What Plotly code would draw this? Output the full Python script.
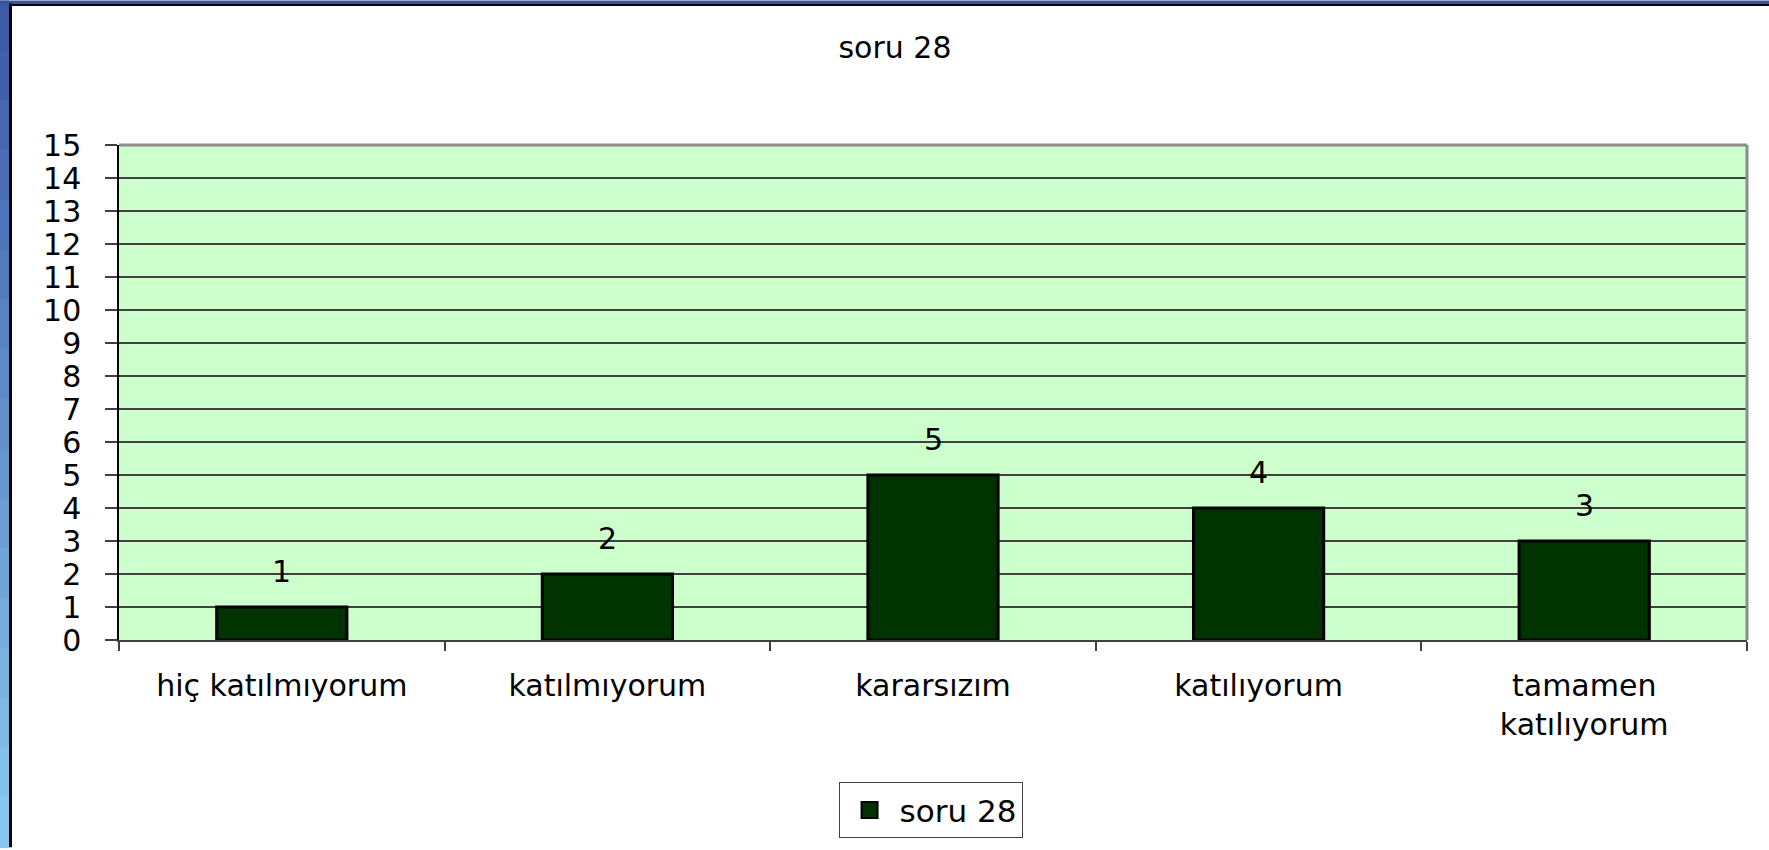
import plotly.graph_objects as go

categories = ["hiç katılmıyorum", "katılmıyorum", "kararsızım", "katılıyorum", "tamamen<br>katılıyorum"]
values = [1, 2, 5, 4, 3]
series_name = "soru 28"
title_text = "soru 28"
y_ticks = list(range(0, 16))

W, H = 1769, 850
L, R, T, B = 119, 22, 145, 208
PW, PH = W - L - R, H - T - B

def xp(px):
    return (px - L) / PW

def yp(py):
    return (H - B - py) / PH

FONT = "DejaVu Sans"
FS = 30
BAR_COLOR = "#003300"

fig = go.Figure()
fig.add_trace(go.Bar(
    x=categories, y=values, name=series_name,
    marker=dict(color=BAR_COLOR, line=dict(color="#000000", width=3)),
    width=0.4, showlegend=False,
))
# legend entry with a larger square swatch
fig.add_trace(go.Scatter(
    x=[None], y=[None], mode="markers", name=series_name,
    marker=dict(symbol="square", size=21, color=BAR_COLOR, line=dict(color="#000000", width=2)),
    showlegend=True,
))

annotations = []
for c, v in zip(categories, values):
    annotations.append(dict(x=c, y=v, xref="x", yref="y", text=str(v), showarrow=False,
                            yanchor="middle", yshift=36,
                            font=dict(family=FONT, size=FS, color="#000000")))

shapes = []
n = 17
top_c = (61, 90, 168)
bot_c = (136, 200, 238)
for i in range(n):
    f = i / (n - 1)
    col = "rgb(%d,%d,%d)" % tuple(int(top_c[k] + (bot_c[k] - top_c[k]) * f) for k in range(3))
    y0 = i * H / n
    y1 = (i + 1) * H / n + 1
    shapes.append(dict(type="rect", xref="paper", yref="paper", x0=xp(0), x1=xp(9),
                       y0=yp(y0), y1=yp(y1), fillcolor=col, line=dict(width=0), layer="above"))
shapes.append(dict(type="rect", xref="paper", yref="paper", x0=xp(0), x1=xp(W),
                   y0=yp(0), y1=yp(3), fillcolor="rgb(52,82,160)", line=dict(width=0)))
shapes.append(dict(type="rect", xref="paper", yref="paper", x0=xp(9), x1=xp(W),
                   y0=yp(3), y1=yp(5.5), fillcolor="#000000", line=dict(width=0)))
shapes.append(dict(type="rect", xref="paper", yref="paper", x0=xp(9), x1=xp(12),
                   y0=yp(3), y1=yp(H), fillcolor="#000000", line=dict(width=0)))
shapes.append(dict(type="line", xref="paper", yref="paper", x0=0, x1=1, y0=1, y1=1,
                   line=dict(color="#8c8c8c", width=3)))
shapes.append(dict(type="line", xref="paper", yref="paper", x0=1, x1=1, y0=0, y1=1,
                   line=dict(color="#8c8c8c", width=3)))

fig.update_layout(
    width=W, height=H,
    margin=dict(l=L, r=R, t=T, b=B, pad=0),
    paper_bgcolor="#ffffff",
    plot_bgcolor="#ccffcc",
    font=dict(family=FONT, size=FS, color="#000000"),
    title=dict(text=title_text, x=895 / W, xanchor="center", xref="container",
               y=1 - 47 / H, yanchor="middle", yref="container",
               font=dict(family=FONT, size=FS, color="#000000")),
    xaxis=dict(type="category", showline=True, linecolor="#404040", linewidth=2,
               ticks="outside", tickson="boundaries", ticklen=9, tickcolor="#404040",
               tickwidth=2, showgrid=False, tickfont=dict(family=FONT, size=FS),
               ticklabelstandoff=18, fixedrange=True),
    yaxis=dict(range=[0, 15], tickvals=y_ticks, ticks="outside", ticklen=12,
               tickcolor="#404040", tickwidth=2, showgrid=True, gridcolor="#404040",
               gridwidth=1.5, showline=True, linecolor="#000000", linewidth=1.5,
               zeroline=False, tickfont=dict(family=FONT, size=FS), ticklabelstandoff=18),
    legend=dict(x=0.4985, xanchor="center", y=yp(813), yanchor="middle",
                orientation="h", bordercolor="#404040", borderwidth=1,
                bgcolor="#ffffff", font=dict(family=FONT, size=31),
                itemsizing="trace", itemwidth=50),
    annotations=annotations,
    shapes=shapes,
)

fig.write_html("out.html", config={"displayModeBar": False},
               post_script="document.body.style.margin='0';document.body.style.overflow='hidden';")
